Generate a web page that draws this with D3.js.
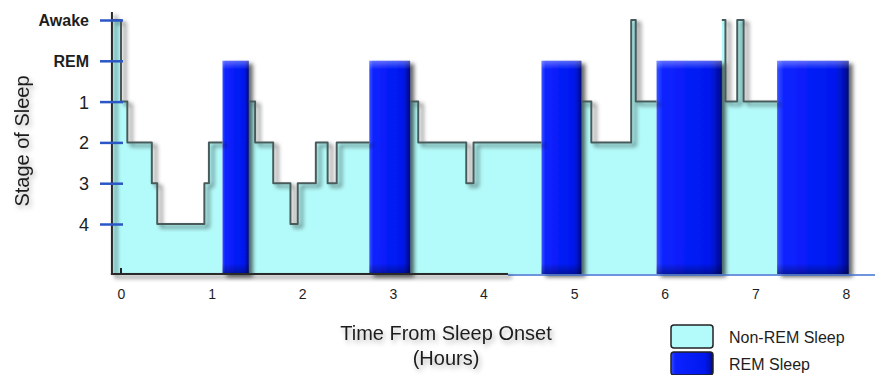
<!DOCTYPE html>
<html><head><meta charset="utf-8">
<script src="https://cdn.jsdelivr.net/npm/d3@7"></script>
<style>body{margin:0;background:#fff} svg{display:block}</style>
</head><body>
<svg id="chart" width="875" height="375"></svg>
<script>
// ---- data ----
const stageLabels = ["Awake","REM","1","2","3","4"];
const hourTicks = [0,1,2,3,4,5,6,7,8];
// times (hours from sleep onset) at which the stage changes, and the stage held from there
const changeTimes = [-0.1,0.00,0.07,0.34,0.40,0.92,0.97,1.12,1.41,1.48,1.68,1.87,1.95,2.15,2.28,2.38,2.74,3.19,3.28,3.81,3.89,4.64,5.08,5.19,5.63,5.68,5.91,6.63,6.67,6.80,6.87,7.24];
const changeStages = ["Awake","1","2","3","4","3","2","REM","1","2","3","4","3","2","3","2","REM","1","2","3","2","REM","1","2","Awake","1","REM","Awake","1","Awake","1","REM"];
const endTime = 8.03;
const legendLabels = ["Non-REM Sleep","REM Sleep"];
const axisTitleX = ["Time From Sleep Onset","(Hours)"];
const axisTitleY = "Stage of Sleep";

// ---- layout ----
const W = 875, H = 375;
const baseY = 274;
const svg = d3.select("#chart");
const x = d3.scaleLinear().domain([0, 8]).range([121, 846]);
const y = d3.scalePoint().domain(stageLabels).range([20, 224]);

const CYAN = "#b3fbfa";
const defs = svg.append("defs");
const f = defs.append("filter").attr("id","sh").attr("filterUnits","userSpaceOnUse")
  .attr("x",0).attr("y",0).attr("width",W).attr("height",H);
f.append("feDropShadow").attr("dx",4).attr("dy",3).attr("stdDeviation",2)
  .attr("flood-color","#000").attr("flood-opacity",0.6);
const ft = defs.append("filter").attr("id","tsh").attr("filterUnits","userSpaceOnUse")
  .attr("x",0).attr("y",0).attr("width",W).attr("height",H);
ft.append("feDropShadow").attr("dx",2).attr("dy",3).attr("stdDeviation",2.5)
  .attr("flood-color","#000").attr("flood-opacity",0.3);
const g1 = defs.append("linearGradient").attr("id","remGrad").attr("x1",0).attr("x2",1).attr("y1",0).attr("y2",0);
[[0,"#3a52ff"],[0.1,"#0c22ff"],[0.8,"#0018ef"],[0.93,"#0010b8"],[1,"#000a70"]].forEach(([o,c]) =>
  g1.append("stop").attr("offset",o).attr("stop-color",c));
const g2 = defs.append("linearGradient").attr("id","remTop").attr("x1",0).attr("x2",0).attr("y1",0).attr("y2",1);
[[0,"#ffffff",0.35],[0.04,"#ffffff",0.0],[0.95,"#000000",0],[1,"#000000",0.35]].forEach(([o,c,a]) =>
  g2.append("stop").attr("offset",o).attr("stop-color",c).attr("stop-opacity",a));

// ---- segments ----
const segs = changeTimes.map((t,i) => ({t0:t, t1: i < changeTimes.length-1 ? changeTimes[i+1] : endTime, stage: changeStages[i]}));
const runs = []; let cur = null;
segs.forEach(s => {
  if (s.stage === "REM") { cur = null; return; }
  if (!cur) { cur = []; runs.push(cur); }
  cur.push(s);
});
const rems = segs.filter(s => s.stage === "REM");

const runPts = r => r.map(s => [s.t0, s.stage]).concat([[r[r.length-1].t1, r[r.length-1].stage]]);
const area = d3.area().x(d => x(d[0])).y0(baseY).y1(d => y(d[1])).curve(d3.curveStepAfter);
const line = d3.line().x(d => x(d[0])).y(d => y(d[1])).curve(d3.curveStepAfter);

svg.append("g").selectAll("path").data(runs).join("path")
  .attr("d", r => area(runPts(r))).attr("fill", CYAN);

const remG = svg.append("g");
remG.append("g").attr("filter","url(#sh)").selectAll("rect").data(rems).join("rect")
  .attr("x", d => x(d.t0)).attr("width", d => x(d.t1) - x(d.t0))
  .attr("y", y("REM")).attr("height", baseY - y("REM")).attr("fill","url(#remGrad)");
remG.append("g").selectAll("rect").data(rems).join("rect")
  .attr("x", d => x(d.t0)).attr("width", d => x(d.t1) - x(d.t0))
  .attr("y", y("REM")).attr("height", baseY - y("REM")).attr("fill","url(#remTop)");

svg.append("g").attr("filter","url(#sh)").selectAll("path").data(runs).join("path")
  .attr("d", r => line(runPts(r))).attr("fill","none")
  .attr("stroke","#485a5a").attr("stroke-width",2).attr("stroke-linejoin","round");

// ---- axes ----
const axisX0 = x(changeTimes[0]);
svg.append("line").attr("x1", x(4.27)).attr("x2", W).attr("y1", baseY+1).attr("y2", baseY+1)
  .attr("stroke","#3f6fd0").attr("stroke-width",1.5);
const axG = svg.append("g").attr("filter","url(#sh)");
axG.append("line").attr("x1", axisX0).attr("x2", axisX0).attr("y1", 12).attr("y2", baseY+1)
  .attr("stroke","#2a2a2a").attr("stroke-width",2);
axG.append("line").attr("x1", axisX0-1).attr("x2", x(4.27)).attr("y1", baseY).attr("y2", baseY)
  .attr("stroke","#2a2a2a").attr("stroke-width",2);
svg.append("line").attr("x1", x(0)).attr("x2", x(0)).attr("y1", baseY-6).attr("y2", baseY)
  .attr("stroke","#222").attr("stroke-width",2);

const tf = "Liberation Sans, Arial, sans-serif";
const yAx = svg.append("g").attr("transform","translate(123,0)")
  .call(d3.axisLeft(y).tickSize(23).tickPadding(11));
yAx.select(".domain").remove();
yAx.selectAll(".tick line").attr("stroke","#2a56c6").attr("stroke-width",2.5);
yAx.selectAll(".tick text").attr("fill","#1e1e1e").attr("font-family",tf)
  .attr("font-size", d => isNaN(+d) ? 16 : 18).attr("font-weight", d => isNaN(+d) ? 600 : 400)
  .attr("dy","0.36em");

const xAx = svg.append("g").attr("transform",`translate(0,${baseY})`)
  .call(d3.axisBottom(x).tickValues(hourTicks).tickSize(0).tickPadding(15).tickFormat(d3.format("d")));
xAx.select(".domain").remove();
xAx.selectAll(".tick text").attr("fill","#1e1e1e").attr("font-family",tf).attr("font-size",14);

// ---- titles ----
svg.append("g").attr("filter","url(#tsh)")
  .append("text").attr("transform","translate(29,141) rotate(-90)").attr("text-anchor","middle")
  .attr("font-family",tf).attr("font-size",20).attr("fill","#1e1e1e").text(axisTitleY);
svg.append("g").attr("filter","url(#tsh)")
  .selectAll(".xt").data(axisTitleX).join("text").attr("class","xt")
  .attr("x",446).attr("y",(d,i) => 340 + i*25).attr("text-anchor","middle")
  .attr("font-family",tf).attr("font-size",20).attr("fill","#1e1e1e").text(d => d);

// ---- legend ----
const lg = svg.append("g");
lg.selectAll("rect").data(legendLabels).join("rect")
  .attr("x",671).attr("y",(d,i) => 325 + i*27).attr("width",42).attr("height",23).attr("rx",3)
  .attr("fill",(d,i) => i === 0 ? CYAN : "url(#remGrad)").attr("stroke","#222").attr("stroke-width",1.5);
lg.selectAll("text").data(legendLabels).join("text")
  .attr("x",729).attr("y",(d,i) => 343 + i*27)
  .attr("font-family",tf).attr("font-size",16).attr("fill","#1e1e1e").text(d => d);
</script>
</body></html>
